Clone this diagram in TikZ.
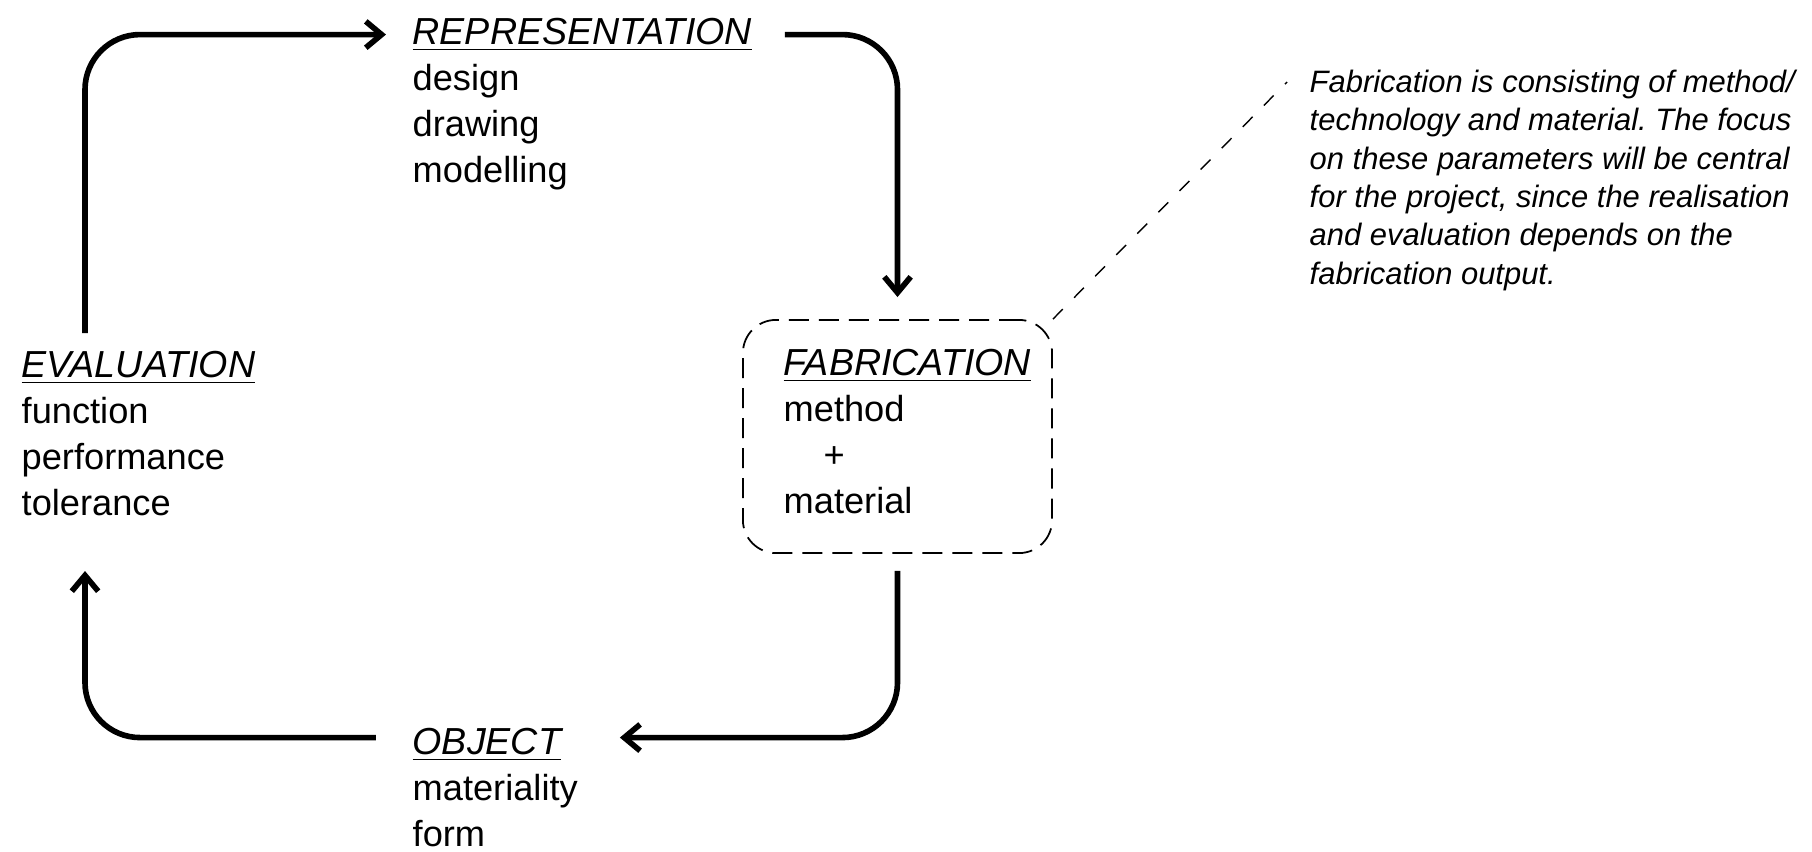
\documentclass[tikz,border=0pt]{standalone}
\usepackage{fontspec}
\setmainfont{Liberation Sans}
\usepackage{tikz}
\usetikzlibrary{arrows.meta,positioning}
\frenchspacing
\tikzset{
  flow/.style={draw=black, line width=1.6pt, rounded corners=0.55cm, -{Straight Barb[length=4.5pt,width=7.5pt]}},
  box/.style={draw=black, line width=0.5pt, dash pattern=on 0.2cm off 0.1cm, rounded corners=0.33cm, minimum width=3.09cm, minimum height=2.33cm},
  lead/.style={draw=black, line width=0.4pt, dash pattern=on 0.14cm off 0.16cm},
  lab/.style={font=\fontsize{10.3}{13.1}\selectfont, inner sep=0pt, anchor=north west, align=left},
  head/.style={lab, anchor=base west, font=\fontsize{10.7}{13.1}\selectfont\itshape},
  note/.style={font=\fontsize{8.8}{10.9}\selectfont\itshape, inner sep=0pt, anchor=north west, align=left},
}

\begin{document}
\begin{tikzpicture}[x=0.01cm, y=-0.01cm]
  \useasboundingbox (0,0) rectangle (1812,851);

  % headings
  \node[head] (rep) at (412,44) {\underline{REPRESENTATION}};
  \node[head] (eval) at (21,377) {\underline{EVALUATION}};
  \node[head] (fab) at (783,375) {\underline{FABRICATION}};
  \node[head] (obj) at (412,754) {\underline{OBJECT}};

  % lists under the headings (first line starts with a strut)
  \node[lab] (repl) at ([yshift=-0.137cm]rep.base west) {\strut design\\drawing\\modelling};
  \node[lab] (evall) at ([yshift=-0.137cm]eval.base west) {\strut function\\performance\\tolerance};
  \node[lab] (fabl) at ([yshift=-0.137cm]fab.base west) {\strut method\\\hspace*{1.1em}+\\material};
  \node[lab] (objl) at ([yshift=-0.137cm]obj.base west) {\strut materiality\\form};

  \node[box] (fabbox) at (897.5,436.5) {};
  \node[note] (txt) at (1309,65) {\strut Fabrication is consisting of method/\\technology and material. The focus\\on these parameters will be central\\for the project, since the realisation\\and evaluation depends on the\\fabrication output.};

  \coordinate (evup) at (85,333);
  \coordinate (evdn) at (85,571);
  \coordinate (ldend) at (1287,82);

  % the loop
  \draw[flow, shorten >=0.26cm] (evup) |- (rep.west);
  \draw[flow, shorten <=0.32cm, shorten >=0.22cm] (rep.east) -| (fabbox.north);
  \draw[flow, shorten <=0.17cm, shorten >=0.58cm] (fabbox.south) |- ([yshift=0.07cm]obj.east);
  \draw[flow, shorten <=0.36cm] ([yshift=0.07cm]obj.west) -| (evdn);

  \draw[lead] (fabbox.north east) -- (ldend);
\end{tikzpicture}
\end{document}
